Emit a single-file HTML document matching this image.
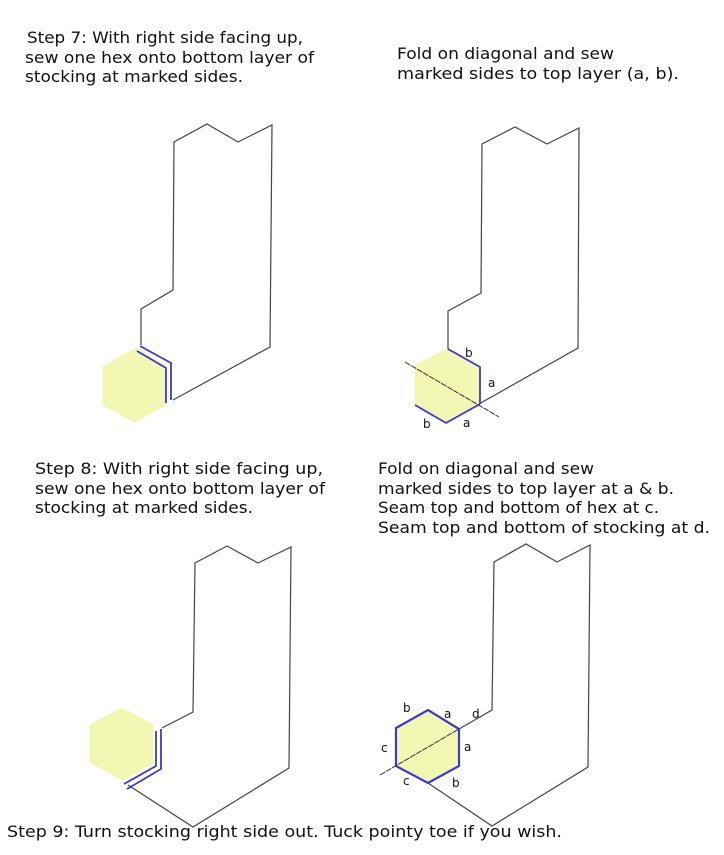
<!DOCTYPE html>
<html><head><meta charset="utf-8"><style>
html,body{margin:0;padding:0;background:#fff;}
svg{display:block;}
text{font-family:"DejaVu Sans","Liberation Sans",sans-serif;font-size:16px;fill:#111;}
.l{font-size:12px;}
</style></head><body>
<svg width="724" height="855" viewBox="0 0 724 855" xmlns="http://www.w3.org/2000/svg">
<g>
<text x="27" y="43" textLength="276" lengthAdjust="spacingAndGlyphs">Step 7:  With right side facing up,</text>
<text x="25" y="63" textLength="289" lengthAdjust="spacingAndGlyphs">sew one hex onto bottom layer of</text>
<text x="25" y="82" textLength="218" lengthAdjust="spacingAndGlyphs">stocking at marked sides.</text>
<text x="397" y="59" textLength="217" lengthAdjust="spacingAndGlyphs">Fold on diagonal and sew</text>
<text x="397" y="79" textLength="282" lengthAdjust="spacingAndGlyphs">marked sides to top layer (a, b).</text>

<text x="35" y="474" textLength="288" lengthAdjust="spacingAndGlyphs">Step 8:  With right side facing up,</text>
<text x="35" y="494" textLength="290" lengthAdjust="spacingAndGlyphs">sew one hex onto bottom layer of</text>
<text x="35" y="513" textLength="218" lengthAdjust="spacingAndGlyphs">stocking at marked sides.</text>
<text x="378" y="474" textLength="216" lengthAdjust="spacingAndGlyphs">Fold on diagonal and sew</text>
<text x="378" y="494" textLength="296" lengthAdjust="spacingAndGlyphs">marked sides to top layer at a &amp; b.</text>
<text x="378" y="513" textLength="281" lengthAdjust="spacingAndGlyphs">Seam top and bottom of hex at c.</text>
<text x="378" y="533" textLength="332" lengthAdjust="spacingAndGlyphs">Seam top and bottom of stocking at d.</text>

<text x="7" y="837" textLength="555" lengthAdjust="spacingAndGlyphs">Step 9: Turn stocking right side out.  Tuck pointy toe if you wish.</text>
</g>

<g fill="none" stroke="#444" stroke-width="1.2">
<polygon points="103,367 136,348 165,365 165,405 135,422 103,405" fill="#f3f7b4" stroke="#f3f7b4"/>
<polyline points="141,345 141,309 173,290 174,142 207,124 238,142 272,125 270,347 173,400"/>
<polygon points="415,365 448,349 480,367 480,404 446,423 415,405" fill="#f3f7b4" stroke="#f3f7b4"/>
<polyline points="448,349 448,311 481,293 482,144 515,127 547,144 579,128 578,348 479,404"/>
<polygon points="90,725 122,708 153,725 153,763 123,780 90,762" fill="#f3f7b4" stroke="#f3f7b4"/>
<polyline points="162,728 193,712 195,563 227,546 258,563 291,547 289,768 193,827 128,785"/>
<polygon points="396,728 428,710 459,729 459,766 428,783 396,766" fill="#f3f7b4" stroke="none"/>
<polyline points="459,729 492,710 494,562 526,544 557,562 590,545 588,767 492,826 428,783"/>
</g>

<g fill="none" stroke="#3a3ad0" stroke-width="1.8">
<polyline points="140,346 171,363 171,400"/>
<polyline points="137,351 166,368 166,403"/>
<polyline points="448,349 480,367 480,404"/>
<polyline points="415,405 446,423 480,404"/>
<polyline points="161,729 161,769 127,789"/>
<polyline points="156,731 156,766 124,784"/>
<polygon points="396,728 428,710 459,729 459,766 428,783 396,766" stroke-width="2.2"/>
</g>

<g stroke="#333" stroke-width="1" fill="none">
<line x1="405" y1="362" x2="499" y2="417" stroke-dasharray="6,1"/>
<line x1="380" y1="775" x2="459" y2="729" stroke-dasharray="6,1"/>
</g>

<g>
<text class="l" x="465" y="357">b</text>
<text class="l" x="488" y="387">a</text>
<text class="l" x="423" y="428">b</text>
<text class="l" x="463" y="427">a</text>
<text class="l" x="403" y="712">b</text>
<text class="l" x="444" y="718">a</text>
<text class="l" x="472" y="718">d</text>
<text class="l" x="381" y="752">c</text>
<text class="l" x="464" y="751">a</text>
<text class="l" x="403" y="785">c</text>
<text class="l" x="452" y="787">b</text>
</g>
</svg>
</body></html>
